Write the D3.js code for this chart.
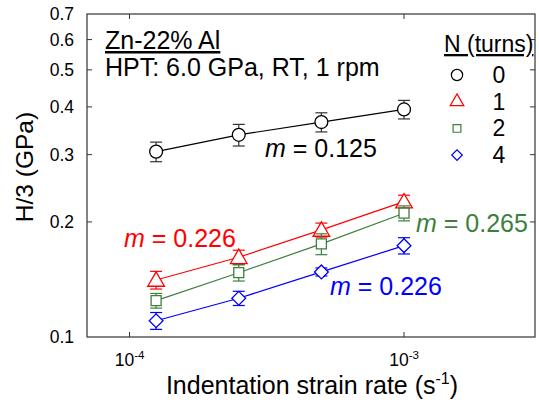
<!DOCTYPE html>
<html>
<head>
<meta charset="utf-8">
<script src="https://cdn.jsdelivr.net/npm/d3@7"></script>
<style>
  body { margin: 0; background: #fff; }
  text { font-family: "Liberation Sans", Arial, sans-serif; }
</style>
</head>
<body>
<div id="chart"></div>
<script>
// data
const strainRates = [1.25e-4, 2.5e-4, 5e-4, 1e-3];
const turns = ["0", "1", "2", "4"];
const h0 = [0.3055, 0.338, 0.365, 0.394];
const h1 = [0.141, 0.1617, 0.1906, 0.226];
const h2 = [0.1245, 0.1473, 0.1752, 0.2108];
const h4 = [0.1103, 0.1263, 0.148, 0.1734];
const err0 = [0.018, 0.022, 0.021, 0.022];
const err1 = [0.0075, 0.007, 0.008, 0.009];
const err2 = [0.0055, 0.0072, 0.011, 0.0095];
const err4 = [0.0056, 0.0054, 0.0036, 0.0085];
const slopeLabels = ["0.125", "0.226", "0.265", "0.226"];
const yTicks = [0.1, 0.2, 0.3, 0.4, 0.5, 0.6, 0.7];
const xTicks = [1e-4, 1e-3];
const xTickExp = ["-4", "-3"];

//////////CODE//////////
const svgObj = { width: 539, height: 408 };
const plot = { left: 87, right: 535, top: 14, bottom: 337 };

const colors = ["#000000", "#ff0000", "#3d7f3d", "#0000ff"];
const symbols = [d3.symbolCircle, d3.symbolTriangle, d3.symbolSquare, d3.symbolSquare];
const rotations = [0, 0, 0, 45]; // diamond = square turned 45deg
const symSizes = [130, 120, 100, 95];
const legendSizes = [100, 80, 60, 55];

const series = [
  { n: turns[0], vals: h0, errs: err0 },
  { n: turns[1], vals: h1, errs: err1 },
  { n: turns[2], vals: h2, errs: err2 },
  { n: turns[3], vals: h4, errs: err4 },
];

const x = d3.scaleLog().domain([7e-5, 3e-3]).range([plot.left, plot.right]);
const y = d3.scaleLog().domain([0.1, 0.7]).range([plot.bottom, plot.top]);

const svg = d3
  .select("#chart")
  .append("svg")
  .attr("width", svgObj.width)
  .attr("height", svgObj.height);

// ticks (inward, all four sides)
const tickLen = 5;
const frameColor = "#333";
yTicks.slice(1, -1).forEach((t) => {
  svg.append("line")
    .attr("x1", plot.left).attr("x2", plot.left + tickLen)
    .attr("y1", y(t)).attr("y2", y(t))
    .attr("stroke", frameColor);
  svg.append("line")
    .attr("x1", plot.right).attr("x2", plot.right - tickLen)
    .attr("y1", y(t)).attr("y2", y(t))
    .attr("stroke", frameColor);
});
xTicks.forEach((t) => {
  svg.append("line")
    .attr("x1", x(t)).attr("x2", x(t))
    .attr("y1", plot.bottom).attr("y2", plot.bottom - tickLen)
    .attr("stroke", frameColor);
  svg.append("line")
    .attr("x1", x(t)).attr("x2", x(t))
    .attr("y1", plot.top).attr("y2", plot.top + tickLen)
    .attr("stroke", frameColor);
});

// frame
svg.append("rect")
  .attr("x", plot.left)
  .attr("y", plot.top)
  .attr("width", plot.right - plot.left)
  .attr("height", plot.bottom - plot.top)
  .attr("fill", "none")
  .attr("stroke", frameColor)
  .attr("stroke-width", 1.2);

// y tick labels
yTicks.forEach((t) => {
  svg.append("text")
    .attr("x", 74)
    .attr("y", y(t) + 6)
    .attr("text-anchor", "end")
    .attr("font-size", 17.5)
    .text(t.toFixed(1));
});

// x tick labels with superscript
xTicks.forEach((t, i) => {
  const lbl = svg.append("text")
    .attr("x", x(t))
    .attr("y", 366)
    .attr("text-anchor", "middle")
    .attr("font-size", 17.5);
  lbl.append("tspan").text("10");
  lbl.append("tspan").attr("dy", -7).attr("font-size", 11.5).text(xTickExp[i]);
});

// axis titles
svg.append("text")
  .attr("transform", "translate(33, 167) rotate(-90)")
  .attr("text-anchor", "middle")
  .attr("font-size", 24.5)
  .text("H/3 (GPa)");

const xTitle = svg.append("text")
  .attr("x", 312)
  .attr("y", 394)
  .attr("text-anchor", "middle")
  .attr("font-size", 25);
xTitle.append("tspan").text("Indentation strain rate (s");
xTitle.append("tspan").attr("dy", -10).attr("font-size", 16).text("-1");
xTitle.append("tspan").attr("dy", 10).text(")");

// series
series.forEach((s, i) => {
  const pts = strainRates.map((r, j) => ({ r, v: s.vals[j], e: s.errs[j] }));
  const g = svg.append("g");

  g.append("path")
    .datum(pts)
    .attr("d", d3.line().x((d) => x(d.r)).y((d) => y(d.v)))
    .attr("fill", "none")
    .attr("stroke", colors[i])
    .attr("stroke-width", 1.2);

  pts.forEach((d) => {
    const cx = x(d.r);
    const errColor = i === 0 ? "#333" : colors[i];
    g.append("line")
      .attr("x1", cx).attr("x2", cx)
      .attr("y1", y(d.v + d.e)).attr("y2", y(d.v - d.e))
      .attr("stroke", errColor).attr("stroke-width", 1.2);
    [d.v + d.e, d.v - d.e].forEach((yy) => {
      g.append("line")
        .attr("x1", cx - 6).attr("x2", cx + 6)
        .attr("y1", y(yy)).attr("y2", y(yy))
        .attr("stroke", errColor).attr("stroke-width", 1.2);
    });
  });

  g.selectAll("path.marker")
    .data(pts)
    .join("path")
    .attr("class", "marker")
    .attr("transform", (d) =>
      `translate(${x(d.r)}, ${y(d.v) + (i === 1 ? 1.5 : 0)}) rotate(${rotations[i]})`)
    .attr("d", d3.symbol().type(symbols[i]).size(symSizes[i]))
    .attr("fill", "white")
    .attr("stroke", colors[i])
    .attr("stroke-width", 1.3);
});

// annotations
svg.append("text")
  .attr("x", 105).attr("y", 49)
  .attr("font-size", 25)
  .attr("text-decoration", "underline")
  .text("Zn-22% Al");
svg.append("text")
  .attr("x", 105).attr("y", 76)
  .attr("font-size", 25)
  .text("HPT: 6.0 GPa, RT, 1 rpm");

// slope labels
const slopePos = [
  [265, 157],
  [124, 247],
  [416, 232],
  [330, 295],
];
slopeLabels.forEach((lbl, i) => {
  const t = svg.append("text")
    .attr("x", slopePos[i][0])
    .attr("y", slopePos[i][1])
    .attr("font-size", 25)
    .attr("fill", colors[i]);
  t.append("tspan").attr("font-style", "italic").text("m");
  t.append("tspan").text(" = " + lbl);
});

// legend
svg.append("text")
  .attr("x", 444).attr("y", 52)
  .attr("font-size", 23)
  .attr("text-decoration", "underline")
  .text("N (turns)");
turns.forEach((n, i) => {
  const ly = 75 + i * 26.7;
  svg.append("path")
    .attr("transform", `translate(457, ${ly}) rotate(${rotations[i]})`)
    .attr("d", d3.symbol().type(symbols[i]).size(legendSizes[i]))
    .attr("fill", "white")
    .attr("stroke", colors[i])
    .attr("stroke-width", 1.2);
  svg.append("text")
    .attr("x", 499).attr("y", ly + 8)
    .attr("text-anchor", "middle")
    .attr("font-size", 23)
    .text(n);
});
</script>
</body>
</html>
